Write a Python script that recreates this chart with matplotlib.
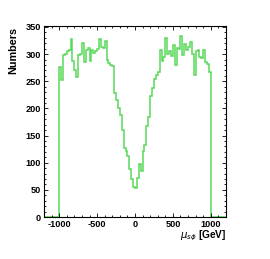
import numpy as np
import matplotlib
matplotlib.use('Agg')
import matplotlib.pyplot as plt
from matplotlib.ticker import MultipleLocator

# bin edges: 80 bins of 25 GeV from -1000 to 1000, empty outside
edges = [-1200] + list(range(-1000, 1001, 25)) + [1200]

left_counts = [277, 253, 298, 300, 305, 308, 327, 288, 270, 258,
               299, 300, 320, 285, 308, 311, 288, 308, 302, 305,
               310, 328, 314, 312, 325, 290, 283, 280, 278, 228,
               215, 200, 188, 160, 127, 122, 112, 88, 70, 55]
right_counts = [53, 72, 98, 84, 122, 132, 167, 185, 222, 238,
                255, 262, 267, 307, 288, 295, 329, 300, 306, 296,
                317, 280, 312, 310, 333, 298, 318, 308, 313, 323,
                300, 262, 305, 308, 295, 293, 308, 285, 281, 268]
counts = [0] + left_counts + right_counts + [0]

xticks = [-1000, -500, 0, 500, 1000]
yticks = [0, 50, 100, 150, 200, 250, 300, 350]

plt.rcParams['font.family'] = ['Liberation Sans', 'DejaVu Sans']
plt.rcParams['axes.unicode_minus'] = False

fig = plt.figure(figsize=(2.70, 2.59), dpi=100)
ax = fig.add_axes([0.163, 0.162, 0.674, 0.738])

ax.stairs(counts, edges, color='#5ad85a', linewidth=1.1)

ax.set_xlim(-1200, 1200)
ax.set_ylim(0, 352)
ax.set_xticks(xticks)
ax.set_yticks(yticks)
ax.xaxis.set_minor_locator(MultipleLocator(100))
ax.yaxis.set_minor_locator(MultipleLocator(10))
ax.tick_params(which='both', direction='in', top=True, right=True,
               labelsize=6.6, width=0.6, pad=2)
ax.tick_params(which='major', length=3.2)
ax.tick_params(which='minor', length=1.6)
for lab in ax.get_xticklabels() + ax.get_yticklabels():
    lab.set_fontweight('bold')
for s in ax.spines.values():
    s.set_linewidth(0.8)

fig.text(0.048, 0.897, 'Numbers', rotation=90, ha='center', va='top',
         fontsize=7.8, fontweight='bold')
fig.text(0.837, 0.062, r'$\mu_{s\phi}$ [GeV]', ha='right', va='bottom',
         fontsize=7.3, fontweight='bold')

fig.savefig('out.png', dpi=100)
